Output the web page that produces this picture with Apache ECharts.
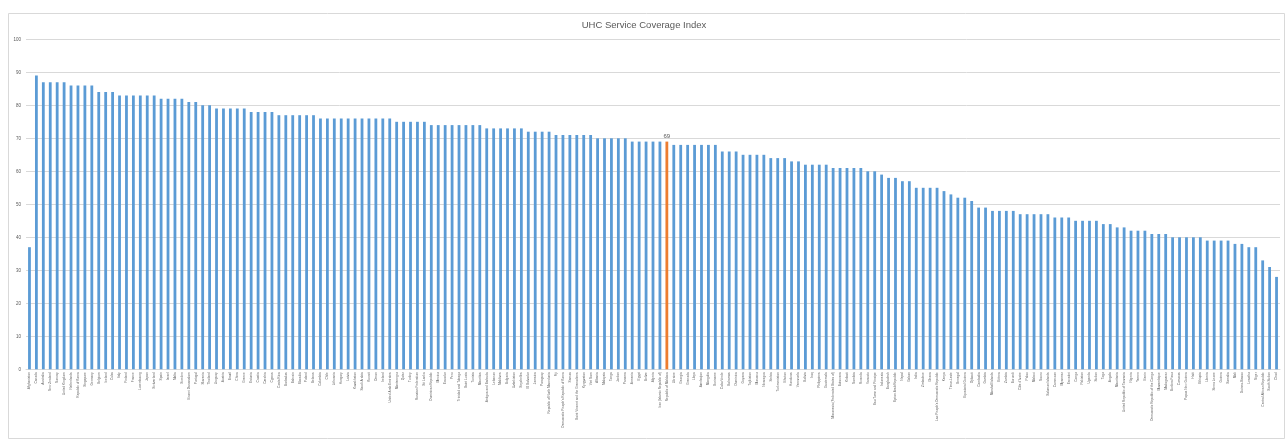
<!DOCTYPE html>
<html>
<head>
<meta charset="utf-8">
<title>UHC Service Coverage Index</title>
<script src="https://cdn.jsdelivr.net/npm/echarts@6/dist/echarts.min.js"></script>
<style>
    html, body { margin: 0; padding: 0; background: #fff; }
    #main { width: 1288px; height: 440px; }
</style>
</head>
<body>
<div id="main"></div>
<script>
// countries, in the order of the chart
var countries = [
    'Afghanistan', 'Canada', 'Australia', 'New Zealand', 'Norway', 'United Kingdom', 'Netherlands', 'Republic of Korea',
    'Singapore', 'Germany', 'Belgium', 'Iceland', 'Cuba', 'Italy', 'Finland', 'France', 'Luxembourg', 'Japan',
    'Switzerland', 'Spain', 'Israel', 'Malta', 'Sweden', 'Brunei Darussalam', 'Portugal', 'Slovenia', 'Thailand',
    'Uruguay', 'Austria', 'Brazil', 'China', 'Greece', 'Estonia', 'Croatia', 'Czechia', 'Cyprus', 'Costa Rica',
    'Barbados', 'Bahrain', 'Slovakia', 'Poland', 'Belarus', 'Colombia', 'Chile', 'Lithuania', 'Hungary', 'Latvia',
    'Kazakhstan', 'Saudi Arabia', 'Kuwait', 'Oman', 'Ireland', 'United Arab Emirates', 'Montenegro', 'Qatar', 'Turkey',
    'Russian Federation', 'Sri Lanka', 'Dominican Republic', 'Mexico', 'Ecuador', 'Peru', 'Trinidad and Tobago',
    'Saint Lucia', 'Tunisia', 'Mauritius', 'Antigua and Barbuda', 'Lebanon', 'Maldives', 'Bulgaria', 'Uzbekistan',
    'Seychelles', 'El Salvador', 'Jamaica', 'Paraguay', 'Republic of North Macedonia', 'Fiji',
    "Democratic People's Republic of Korea", 'Samoa', 'Saint Vincent and the Grenadines', 'Kyrgyzstan', 'Viet Nam',
    'Albania', 'Malaysia', 'Tonga', 'Jordan', 'Panama', 'Armenia', 'Egypt', 'Belize', 'Algeria',
    'Iran (Islamic Republic of)', 'Republic of Moldova', 'Ukraine', 'Georgia', 'Grenada', 'Libya', 'Azerbaijan',
    'Mongolia', 'Suriname', 'Cabo Verde', 'Bahamas', 'Dominica', 'Guyana', 'Tajikistan', 'Morocco', 'Nicaragua',
    'Serbia', 'Turkmenistan', 'Bhutan', 'Honduras', 'Venezuela', 'Bolivia', 'Iraq', 'Philippines', 'Guatemala',
    'Micronesia (Federated States of)', 'Botswana', 'Kiribati', 'Namibia', 'Rwanda', 'Vanuatu', 'Sao Tome and Principe',
    'Indonesia', 'Bangladesh', 'Syrian Arab Republic', 'Nepal', 'Gabon', 'India', 'Zimbabwe', 'Ghana',
    "Lao People's Democratic Republic", 'Kenya', 'Timor-Leste', 'Senegal', 'Equatorial Guinea', 'Djibouti', 'Cambodia',
    'Gambia', 'Marshall Islands', 'Eritrea', 'Zambia', 'Burundi', "Côte d'Ivoire", 'Palau', 'Malawi', 'Nauru',
    'Solomon Islands', 'Cameroon', 'Myanmar', 'Eswatini', 'Congo', 'Pakistan', 'Uganda', 'Sudan', 'Togo', 'Angola',
    'Mauritania', 'United Republic of Tanzania', 'Nigeria', 'Yemen', 'Benin', 'Democratic Republic of the Congo',
    'Mozambique', 'Madagascar', 'Burkina Faso', 'Comoros', 'Papua New Guinea', 'Haiti', 'Ethiopia', 'Liberia',
    'Sierra Leone', 'Guinea', 'Somalia', 'Mali', 'Guinea-Bissau', 'Lesotho', 'Niger', 'Central African Republic',
    'South Sudan', 'Chad'
];

// index values
var coverage = [
    37, 89, 87, 87, 87, 87, 86, 86, 86, 86, 84, 84, 84, 83, 83, 83, 83, 83, 83, 82, 82, 82, 82, 81, 81, 80, 80,
    79, 79, 79, 79, 79, 78, 78, 78, 78, 77, 77, 77, 77, 77, 77, 76, 76, 76, 76, 76, 76, 76, 76, 76, 76, 76,
    75, 75, 75, 75, 75, 74, 74, 74, 74, 74, 74, 74, 74, 73, 73, 73, 73, 73, 73, 72, 72, 72, 72,
    71, 71, 71, 71, 71, 71, 70, 70, 70, 70, 70, 69, 69, 69, 69, 69, 69, 68, 68, 68, 68, 68, 68, 68,
    66, 66, 66, 65, 65, 65, 65, 64, 64, 64, 63, 63, 62, 62, 62, 62, 61, 61, 61, 61, 61, 60, 60, 59, 58, 58,
    57, 57, 55, 55, 55, 55, 54, 53, 52, 52, 51, 49, 49, 48, 48, 48, 48, 47, 47, 47, 47, 47, 46, 46, 46,
    45, 45, 45, 45, 44, 44, 43, 43, 42, 42, 42, 41, 41, 41, 40, 40, 40, 40, 40, 39, 39, 39, 39, 38, 38,
    37, 37, 33, 31, 28
];

var highlight = 'Republic of Moldova';
var yTicks = [0, 100, 10]; // min, max, step

var chart = echarts.init(document.getElementById('main'));

var barData = coverage.map(function (v, i) {
    if (countries[i] === highlight) {
        return {
            value: v,
            itemStyle: { color: '#ed7d31' },
            label: { show: true, position: 'top', distance: 2, fontSize: 6, color: '#595959' }
        };
    }
    return v;
});

var option = {
    animation: false,
    backgroundColor: '#fff',
    title: {
        text: 'UHC Service Coverage Index',
        left: 'center',
        top: 15,
        textStyle: { fontSize: 9.5, fontWeight: 'normal', color: '#595959', fontFamily: 'Liberation Sans' }
    },
    // outer chart border
    graphic: [{
        type: 'rect',
        shape: { x: 8.5, y: 13.5, width: 1276, height: 425 },
        style: { fill: 'none', stroke: '#d9d9d9', lineWidth: 1 },
        silent: true
    }],
    grid: { left: 26, right: 8, top: 39.3, bottom: 70.7 },
    xAxis: {
        type: 'category',
        data: countries,
        axisLine: { lineStyle: { color: '#d9d9d9' } },
        axisTick: { show: false },
        axisLabel: {
            interval: 0,
            rotate: 90,
            fontSize: 3.2,
            margin: 3,
            color: '#595959',
            fontFamily: 'Liberation Sans'
        }
    },
    yAxis: {
        type: 'value',
        min: yTicks[0],
        max: yTicks[1],
        interval: yTicks[2],
        axisLine: { show: false },
        axisTick: { show: false },
        splitLine: { lineStyle: { color: '#d9d9d9' } },
        axisLabel: { fontSize: 4.5, margin: 5, color: '#595959', fontFamily: 'Liberation Sans' }
    },
    series: [{
        type: 'bar',
        data: barData,
        barWidth: 2.8,
        itemStyle: { color: '#5b9bd5' }
    }]
};

chart.setOption(option);
</script>
</body>
</html>
